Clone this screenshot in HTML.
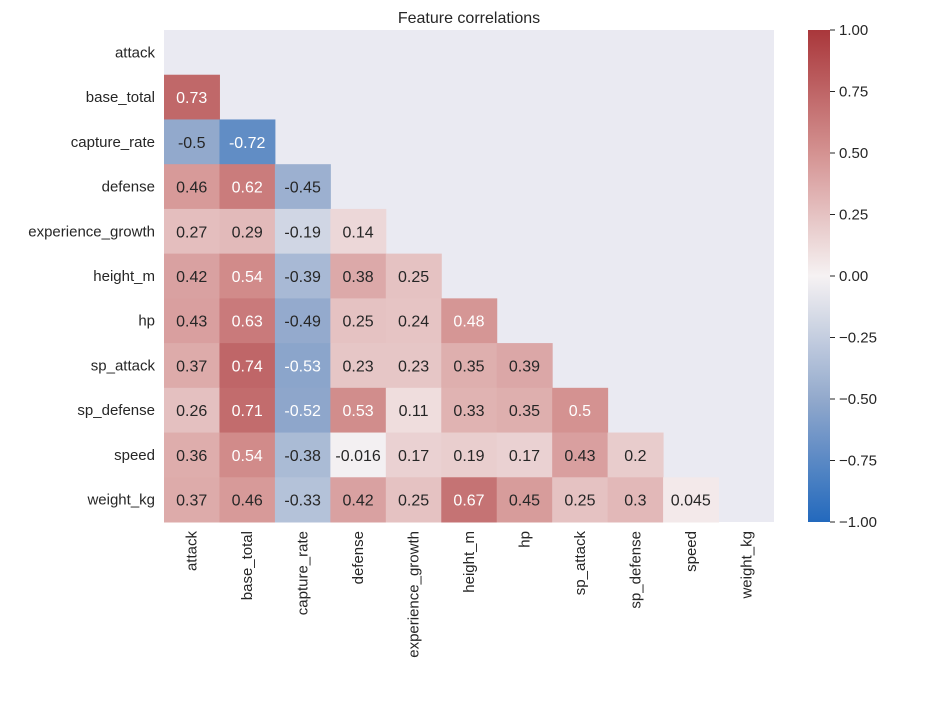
<!DOCTYPE html>
<html><head><meta charset="utf-8">
<style>
body{margin:0;background:#fff;}
svg{font-family:"Liberation Sans",Arial,sans-serif;}
</style></head>
<body>
<svg id="chart" width="952" height="700">
<rect x="164" y="30" width="610" height="492" fill="#eaeaf2"/>
<text x="469" y="23" text-anchor="middle" font-size="16" fill="#262626">Feature correlations</text>
<g id="cells"></g>
<g id="ylabels"></g>
<g id="xlabels"></g>
<defs><linearGradient id="cbgrad" x1="0" y1="1" x2="0" y2="0"></linearGradient></defs>
<rect x="808" y="30" width="22" height="492" fill="url(#cbgrad)"/>
<g id="cbticks"></g>
</svg>
<script>
const features = ["attack","base_total","capture_rate","defense","experience_growth","height_m","hp","sp_attack","sp_defense","speed","weight_kg"];
const lowerValues = [
 [],
 [0.73],
 [-0.5,-0.72],
 [0.46,0.62,-0.45],
 [0.27,0.29,-0.19,0.14],
 [0.42,0.54,-0.39,0.38,0.25],
 [0.43,0.63,-0.49,0.25,0.24,0.48],
 [0.37,0.74,-0.53,0.23,0.23,0.35,0.39],
 [0.26,0.71,-0.52,0.53,0.11,0.33,0.35,0.5],
 [0.36,0.54,-0.38,-0.016,0.17,0.19,0.17,0.43,0.2],
 [0.37,0.46,-0.33,0.42,0.25,0.67,0.45,0.25,0.3,0.045]
];
const cbTicks = [1,0.75,0.5,0.25,0,-0.25,-0.5,-0.75,-1];
const cbTickLabels = ["1.00","0.75","0.50","0.25","0.00","\u22120.25","\u22120.50","\u22120.75","\u22121.00"];

const X0=164,Y0=30,W=610,H=492;
const cw=W/features.length, ch=H/features.length;
const xPos=i=>X0+i*cw, yPos=i=>Y0+i*ch;
const cbY=v=>Y0+(1-v)/2*H;
const stops=[[-1,[35,105,189]],[-0.5,[146,169,204]],[0,[246,242,243]],[0.5,[212,146,145]],[1,[169,55,59]]];
function color(v){
  for(let i=0;i<stops.length-1;i++){
    const [a,ca]=stops[i],[b,cb]=stops[i+1];
    if(v<=b){const t=(v-a)/(b-a);return ca.map((c,k)=>Math.round(c+(cb[k]-c)*t));}
  }
  return stops[stops.length-1][1];
}
function textColor(v){return (v>=0.475||v<=-0.515)?'#ffffff':'#262626';}
const NS="http://www.w3.org/2000/svg";
function mk(tag,attrs,parent){const e=document.createElementNS(NS,tag);for(const k in attrs)e.setAttribute(k,attrs[k]);parent.appendChild(e);return e;}
const cells=document.getElementById('cells');
lowerValues.forEach((row,r)=>row.forEach((v,c)=>{
  const col=color(v);
  const rect=mk('rect',{x:xPos(c),y:yPos(r),width:cw+0.5,height:ch+0.5,fill:`rgb(${col})`},cells);
  
  
  const t=mk('text',{x:xPos(c)+cw/2,y:yPos(r)+ch/2+6,'text-anchor':'middle','font-size':16,fill:textColor(v)},cells);
  t.textContent=String(v);
  
  
}));
const yl=document.getElementById('ylabels'),xl=document.getElementById('xlabels');
features.forEach((f,i)=>{
  const t=mk('text',{x:X0-9,y:yPos(i)+ch/2+5,'text-anchor':'end','font-size':15,fill:'#262626'},yl);
  t.textContent=f;
  
  
  const cx=xPos(i)+cw/2+5, cy=Y0+H+9;
  const u=mk('text',{x:cx,y:cy,'text-anchor':'end','font-size':15,fill:'#262626',transform:`rotate(-90 ${cx} ${cy})`},xl);
  u.textContent=f;
  
  
});
const g=document.getElementById('cbgrad');
for(let k=0;k<=20;k++){const v=-1+k*0.1;const c=color(v);mk('stop',{offset:(k/20),'stop-color':`rgb(${c})`},g);}
const cbt=document.getElementById('cbticks');
cbTicks.forEach((v,i)=>{
  const y=cbY(v);
  const l=mk('line',{x1:830,x2:835,y1:y,y2:y,stroke:'#262626','stroke-width':1},cbt);
  
  
  const t=mk('text',{x:839,y:y+5,'font-size':15,fill:'#262626'},cbt);
  t.textContent=cbTickLabels[i];
  
  
});
</script>
</body></html>
